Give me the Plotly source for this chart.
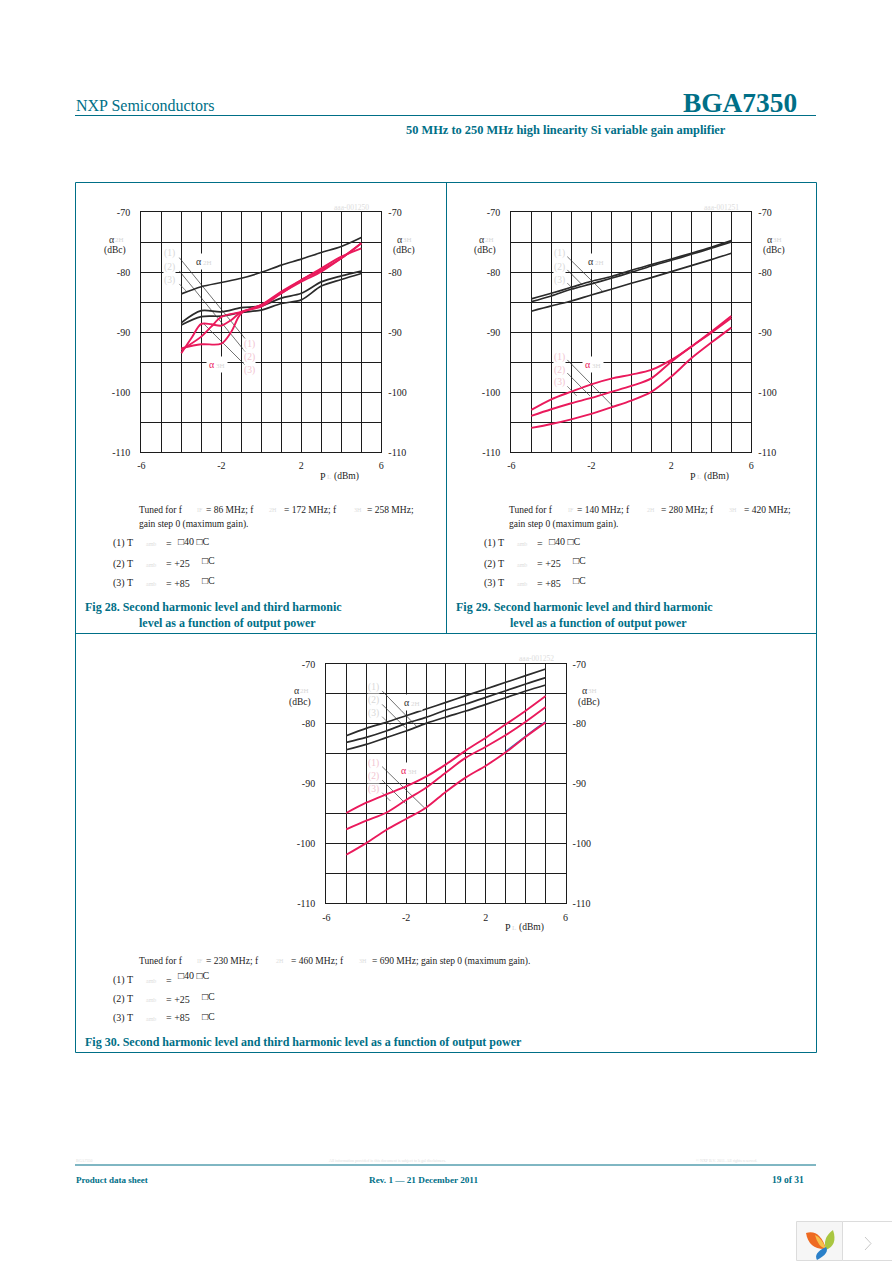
import plotly.graph_objects as go

W, H = 892, 1263
TEAL = "#006f87"
RED = "#ea1a5c"
BLACK = "#2b2b2b"
GRID = "#1c1c1c"
PALE = "#d8d8d8"
PINK = "#f2c4d0"
SERIF = "Liberation Serif"

# ---------- Fig 28 ----------
X28 = [-4, -3, -2, -1, 0, 1, 2, 3, 4, 5]
A2H_28_1 = [-83.6, -82.4, -81.7, -81.0, -80.0, -78.8, -77.8, -76.7, -75.7, -74.2]
A2H_28_2 = [-88.4, -86.4, -86.6, -85.9, -85.6, -84.3, -83.5, -81.6, -80.6, -79.8]
A2H_28_3 = [-88.8, -87.4, -87.3, -86.7, -86.3, -85.2, -84.6, -82.3, -81.2, -80.2]
X28_R1 = [-4, -3, -2, -1.5, -1, 0, 1, 2, 3, 4, 5]
A3H_28_1 = [-92.67, -92.0, -91.89, -89.9, -86.83, -85.44, -83.22, -81.28, -79.61, -77.67, -75.17]
X28_R2 = [-4, -3, -2.5, -2, -1, 0, 1, 2, 3, 4, 5]
A3H_28_2 = [-92.94, -90.72, -89.06, -87.44, -86.61, -85.44, -83.5, -81.28, -79.33, -77.39, -76.0]
X28_R3 = [-4, -3.5, -3, -2.5, -2, -1.5, -1, 0, 1, 2, 3, 4, 5]
A3H_28_3 = [-93.5, -91.0, -88.61, -88.67, -88.89, -87.94, -86.61, -85.72, -83.5, -81.56, -79.89, -77.67, -75.17]

# ---------- Fig 29 ----------
X29 = [-5, -4, -3, -2, -1, 0, 1, 2, 3, 4, 5]
A2H_29_1 = [-84.44, -83.5, -82.5, -81.5, -80.7, -79.67, -78.72, -77.78, -76.83, -75.83, -74.72]
A2H_29_2 = [-84.89, -83.94, -82.83, -81.94, -81.0, -80.0, -78.94, -78.0, -77.0, -76.0, -74.94]
A2H_29_3 = [-86.5, -85.6, -84.78, -83.78, -82.83, -81.83, -80.89, -79.89, -78.89, -77.89, -76.83]
A3H_29_1 = [-102.94, -101.17, -99.89, -98.67, -97.72, -97.06, -96.28, -94.6, -92.4, -89.9, -87.28]
A3H_29_2 = [-103.94, -102.83, -101.83, -100.94, -99.94, -98.94, -97.67, -94.89, -92.39, -90.06, -87.61]
A3H_29_3 = [-105.94, -105.28, -104.5, -103.61, -102.5, -101.39, -99.94, -97.39, -94.33, -91.72, -89.22]

# ---------- Fig 30 ----------
X30 = [-5, -4, -3, -2, -1, 0, 1, 2, 3, 4, 5]
A2H_30_1 = [-81.98, -80.75, -79.75, -78.64, -77.52, -76.41, -75.29, -74.18, -73.06, -71.95, -70.84]
A2H_30_2 = [-83.09, -82.26, -81.2, -79.92, -78.91, -77.69, -76.69, -75.57, -74.46, -73.34, -72.28]
A2H_30_3 = [-84.32, -83.43, -82.31, -81.2, -79.92, -78.86, -77.86, -76.74, -75.63, -74.51, -73.51]
A3H_30_1 = [-94.9, -93.18, -91.78, -90.45, -88.83, -86.77, -84.43, -82.31, -80.08, -77.8, -75.35]
A3H_30_2 = [-97.63, -96.18, -94.85, -92.73, -90.67, -88.11, -85.65, -83.82, -81.87, -79.64, -77.19]
A3H_30_3 = [-101.87, -99.92, -97.74, -95.9, -94.01, -91.34, -88.94, -86.99, -84.76, -82.15, -79.75]
X30_TRACE = [3, 3.5, 4, 4.5, 5]
A3H_30_3_BLUE = [-84.6, -83.3, -81.95, -80.8, -79.65]

# ---------- leader lines beside the curves: (x pair, y pair) ----------
LEAD_28 = [([-4.1, -0.78], [-77.56, -91.17]), ([-4.1, -0.78], [-79.78, -93.33]),
           ([-4.1, -3.73], [-81.94, -83.22]), ([-2.87, -0.78], [-88.61, -95.56])]
LEAD_29 = [([-3.2, -1.43], [-77.4, -83.2]), ([-3.2, -2.48], [-79.6, -82.0]), ([-3.2, -2.87], [-81.8, -82.9]),
           ([-3.2, -0.9], [-94.6, -102.4]), ([-3.2, -2.07], [-96.8, -100.6]), ([-3.2, -2.73], [-99.0, -100.6])]
LEAD_30 = [([-3.2, -1.45], [-74.5, -80.5]), ([-3.2, -2.03], [-76.75, -80.65]), ([-3.2, -2.78], [-78.8, -80.2]),
           ([-3.2, -1.06], [-87.15, -94.1]), ([-3.2, -2.03], [-89.4, -93.3]), ([-3.2, -2.78], [-91.5, -92.9])]

AXIS_Y_TICKS = [-70, -80, -90, -100, -110]
AXIS_X_TICKS = [-6, -2, 2, 6]

CHARTS = [
    dict(box=(141.3, 381.3, 212.3, 452.3), lead=LEAD_28, black=[(X28, A2H_28_1), (X28, A2H_28_2), (X28, A2H_28_3)],
         red=[(X28_R1, A3H_28_1), (X28_R2, A3H_28_2), (X28_R3, A3H_28_3)]),
    dict(box=(511.3, 751.3, 212.3, 452.3), lead=LEAD_29, black=[(X29, A2H_29_1), (X29, A2H_29_2), (X29, A2H_29_3)],
         red=[(X29, A3H_29_1), (X29, A3H_29_2), (X29, A3H_29_3)]),
    dict(box=(326.3, 565.6, 664.0, 903.4), lead=LEAD_30, black=[(X30, A2H_30_1), (X30, A2H_30_2), (X30, A2H_30_3)],
         red=[(X30, A3H_30_1), (X30, A3H_30_2), (X30, A3H_30_3)]),
]

fig = go.Figure()
layout = dict(template="none", width=W, height=H, margin=dict(l=0, r=0, t=0, b=0, pad=0, autoexpand=False),
              paper_bgcolor="white", plot_bgcolor="white",
              showlegend=False, font=dict(family=SERIF, color="#222222", size=10), hovermode=False)

for i, c in enumerate(CHARTS):
    x0, x1, y0, y1 = c["box"]
    n = i + 1
    xa = "x" if n == 1 else f"x{n}"
    yl = f"y{2*n-1}" if n > 1 else "y"
    yr = f"y{2*n}"
    layout["xaxis" if n == 1 else f"xaxis{n}"] = dict(
        domain=[x0 / W, x1 / W], range=[-6, 6], anchor=yl, automargin=False,
        tickmode="array", tickvals=AXIS_X_TICKS, ticktext=[str(v) for v in AXIS_X_TICKS],
        ticks="outside", ticklen=4, tickcolor="white", tickfont=dict(family=SERIF, size=10, color="#222222"),
        showgrid=True, gridcolor=GRID, gridwidth=1.3, showline=True, mirror=True, linecolor=GRID, linewidth=1.3,
        zeroline=False, minor=dict(dtick=1, tick0=-6, showgrid=True, gridcolor=GRID, gridwidth=1.3, ticks=""),
        fixedrange=True)
    layout["yaxis" if n == 1 else f"yaxis{2*n-1}"] = dict(
        domain=[1 - y1 / H, 1 - y0 / H], range=[-110, -70], anchor=xa, side="left", automargin=False,
        tickmode="array", tickvals=AXIS_Y_TICKS, ticktext=[str(v) for v in AXIS_Y_TICKS],
        ticks="outside", ticklen=8, tickcolor="white", tickfont=dict(family=SERIF, size=10, color="#222222"),
        showgrid=True, gridcolor=GRID, gridwidth=1.3, showline=True, linecolor=GRID, linewidth=1.3, mirror=True,
        zeroline=False, minor=dict(dtick=5, tick0=-70, showgrid=True, gridcolor=GRID, gridwidth=1.3, ticks=""),
        fixedrange=True)
    layout[f"yaxis{2*n}"] = dict(
        domain=[1 - y1 / H, 1 - y0 / H], range=[-110, -70], anchor=xa, side="right", automargin=False,
        overlaying=yl, tickmode="array", tickvals=AXIS_Y_TICKS, ticktext=[str(v) for v in AXIS_Y_TICKS],
        ticks="outside", ticklen=4, tickcolor="white", tickfont=dict(family=SERIF, size=10, color="#222222"),
        showgrid=False, zeroline=False, showline=False, fixedrange=True)
    for k, (lx, ly) in enumerate(c["lead"]):
        fig.add_trace(go.Scatter(x=lx, y=ly, mode="lines", xaxis=xa, yaxis=yl,
                                 line=dict(color="#555555" if k % 3 == 2 else "#333333", width=0.7)))
    for (sx, sy) in c["black"]:
        fig.add_trace(go.Scatter(x=sx, y=sy, mode="lines", xaxis=xa, yaxis=yl,
                                 line=dict(color=BLACK, width=1.7, shape="spline", smoothing=0.9)))
    if i == 2:
        fig.add_trace(go.Scatter(x=X30_TRACE, y=A3H_30_3_BLUE, mode="lines", xaxis=xa, yaxis=yr,
                                 line=dict(color="#3a78c8", width=1.6)))
    for (sx, sy) in c["red"]:
        fig.add_trace(go.Scatter(x=sx, y=sy, mode="lines", xaxis=xa, yaxis=yr,
                                 line=dict(color=RED, width=1.9, shape="spline", smoothing=0.9)))

ann = []


def T(px, py, s, size=9.5, color="#222222", bold=False, anchor="left", bg=None):
    a = dict(xref="paper", yref="paper", x=px / W, y=1 - py / H, text=f"<b>{s}</b>" if bold else s,
             showarrow=False, xanchor=anchor, yanchor="middle", borderpad=0,
             font=dict(family=SERIF, size=size, color=color))
    if bg:
        a["bgcolor"] = bg
    ann.append(a)


# header / footer
T(75, 105, "NXP Semiconductors", 16, TEAL)
T(798, 103, "BGA7350", 27.4, TEAL, True, "right")
T(405, 130, "50 MHz to 250 MHz high linearity Si variable gain amplifier", 12.4, TEAL, True)
T(75, 1160, "BGA7350", 4, "#dddddd")
T(328, 1160, "All information provided in this document is subject to legal disclaimers.", 4, "#dddddd")
T(695, 1160, "© NXP B.V. 2011. All rights reserved.", 4, "#dddddd")
T(75, 1180, "Product data sheet", 9, TEAL, True)
T(368, 1180, "Rev. 1 — 21 December 2011", 9.2, TEAL, True)
T(805, 1180, "19 of 31", 9.5, TEAL, True, "right")


def chart_labels(dx, dy, ids, lbls):
    # axis titles
    T(dx + 108, dy + 239, "α", 10, "#333333")
    T(dx + 114, dy + 240, "2H", 7, PALE)
    T(dx + 103, dy + 251, "(dBc)", 9.5)
    T(dx + 396, dy + 239, "α", 10, "#333333")
    T(dx + 402, dy + 240, "3H", 7, PALE)
    T(dx + 392, dy + 251, "(dBc)", 9.5)
    T(dx + 319, dy + 476, "P", 10)
    T(dx + 326, dy + 477, "L", 7, PALE)
    T(dx + 333, dy + 476, "(dBm)", 9.5)
    T(dx + 333, dy + 207, ids, 7.5, "#dddddd")
    for (lx, ly, s, col) in lbls:
        T(lx, ly, s, 9.5, col, False, "center", "white")


def alpha(px, py, sub, col):
    ann.append(dict(xref="paper", yref="paper", x=px / W, y=1 - py / H, showarrow=False, xanchor="center",
                    yanchor="middle", bgcolor="white", borderpad=2,
                    text=f"<span style='color:{col}'>α</span><span style='color:{PALE};font-size:7px'> {sub}</span>",
                    font=dict(family=SERIF, size=10)))


chart_labels(0, 0, "aaa-001250",
             [(169, 253, "(1)", PALE), (169, 267, "(2)", PALE), (169, 280, "(3)", PALE),
              (250, 344, "(1)", PINK), (250, 357, "(2)", PINK), (250, 370, "(3)", PINK)])
alpha(204, 262, "2H", "#333333")
alpha(217, 364, "3H", RED)
chart_labels(370, 0, "aaa-001251",
             [(559, 253, "(1)", PALE), (559, 267, "(2)", PALE), (559, 280, "(3)", PALE),
              (559, 357, "(1)", PINK), (559, 370, "(2)", PINK), (559, 383, "(3)", PINK)])
alpha(596, 262, "2H", "#333333")
alpha(593, 365, "3H", RED)
chart_labels(185, 451, "aaa-001252",
             [(373, 687, "(1)", PALE), (373, 700, "(2)", PALE), (373, 713, "(3)", PALE),
              (373, 763, "(1)", PINK), (373, 776, "(2)", PINK), (373, 789, "(3)", PINK)])
alpha(412, 702, "2H", "#333333")
alpha(409, 770, "3H", RED)


def temps(dx, y1, y2, y3, u1, u2, u3):
    for y, lab in ((y1, "(1)"), (y2, "(2)"), (y3, "(3)")):
        T(dx + 112, y, f"{lab} T", 10)
        T(dx + 145, y + 1, "amb", 6, "#dddddd")
    T(dx + 165, y1, "=", 10)
    T(dx + 177, u1, "□40 □C", 10)
    T(dx + 165, y2, "= +25", 10)
    T(dx + 201, u2, "□C", 10)
    T(dx + 165, y3, "= +85", 10)
    T(dx + 201, u3, "□C", 10)


# Fig 28 notes
T(138, 510, "Tuned for f")
T(196, 510, "IF", 6, "#dddddd")
T(205, 510, "= 86 MHz; f")
T(268, 510, "2H", 6, "#dddddd")
T(283, 510, "= 172 MHz; f")
T(353, 510, "3H", 6, "#dddddd")
T(366, 510, "= 258 MHz;")
T(138, 524, "gain step 0 (maximum gain).")
temps(0, 543, 564, 583, 541, 560, 580)
T(84, 607, "Fig 28. Second harmonic level and third harmonic", 12, TEAL, True)
T(138, 623, "level as a function of output power", 12, TEAL, True)

# Fig 29 notes
T(508, 510, "Tuned for f")
T(567, 510, "IF", 6, "#dddddd")
T(576, 510, "= 140 MHz; f")
T(646, 510, "2H", 6, "#dddddd")
T(660, 510, "= 280 MHz; f")
T(728, 510, "3H", 6, "#dddddd")
T(743, 510, "= 420 MHz;")
T(508, 524, "gain step 0 (maximum gain).")
temps(371, 543, 564, 583, 541, 560, 580)
T(455, 607, "Fig 29. Second harmonic level and third harmonic", 12, TEAL, True)
T(509, 623, "level as a function of output power", 12, TEAL, True)

# Fig 30 notes
T(138, 961, "Tuned for f")
T(196, 961, "IF", 6, "#dddddd")
T(205, 961, "= 230 MHz; f")
T(275, 961, "2H", 6, "#dddddd")
T(290, 961, "= 460 MHz; f")
T(358, 961, "3H", 6, "#dddddd")
T(371, 961, "= 690 MHz; gain step 0 (maximum gain).")
temps(0, 980, 999, 1018, 976, 996, 1016)
T(84, 1042, "Fig 30. Second harmonic level and third harmonic level as a function of output power", 12, TEAL, True)

shapes = []


def line(x0, y0, x1, y1, col=TEAL, w=1):
    shapes.append(dict(type="line", xref="paper", yref="paper", x0=x0 / W, x1=x1 / W, y0=1 - y0 / H, y1=1 - y1 / H,
                       line=dict(color=col, width=w), layer="below"))


def rect(x0, y0, x1, y1, col=TEAL, w=1, fill="rgba(0,0,0,0)"):
    shapes.append(dict(type="rect", xref="paper", yref="paper", x0=x0 / W, x1=x1 / W, y0=1 - y0 / H, y1=1 - y1 / H,
                       line=dict(color=col, width=w), fillcolor=fill, layer="below"))


def petal(pts, col):
    d = "M {},{} Q {},{} {},{} Q {},{} {},{} Z".format(*[v / W if j % 2 == 0 else 1 - v / H for j, v in enumerate(pts)])
    shapes.append(dict(type="path", xref="paper", yref="paper", path=d, fillcolor=col, line=dict(width=0), layer="above"))


line(75, 115.5, 816, 115.5)
line(75, 1165, 816, 1165)
rect(75.5, 182.5, 816.5, 1052.5)
line(446.5, 182.5, 446.5, 633.5)
line(75.5, 633.5, 816.5, 633.5)

# page-viewer widget
rect(796.5, 1221.5, 842.5, 1260.5, "#dcdcdc", 1, "#f6f6f6")
rect(842.5, 1221.5, 893, 1260.5, "#dcdcdc", 1, "white")
line(865, 1237, 871, 1243.5, "#c8c8c8", 1)
line(871, 1243.5, 865, 1250, "#c8c8c8", 1)
petal([806, 1233, 820, 1229, 826, 1249, 809, 1250, 806, 1233], "#ee6a22")
petal([815, 1235, 822, 1238, 826, 1249, 818, 1247, 815, 1235], "#f7c04a")
petal([833, 1230, 838, 1245, 826, 1250, 822, 1238, 833, 1230], "#a9c640")
petal([826, 1247, 830, 1253, 817, 1260, 813, 1253, 826, 1247], "#2a80c9")

layout["annotations"] = ann
layout["shapes"] = shapes
fig.update_layout(**layout)
fig.write_html("out.html", config=dict(displayModeBar=False),
               post_script="document.body.style.margin='0';document.documentElement.style.overflow='hidden';document.body.style.overflow='hidden';")
